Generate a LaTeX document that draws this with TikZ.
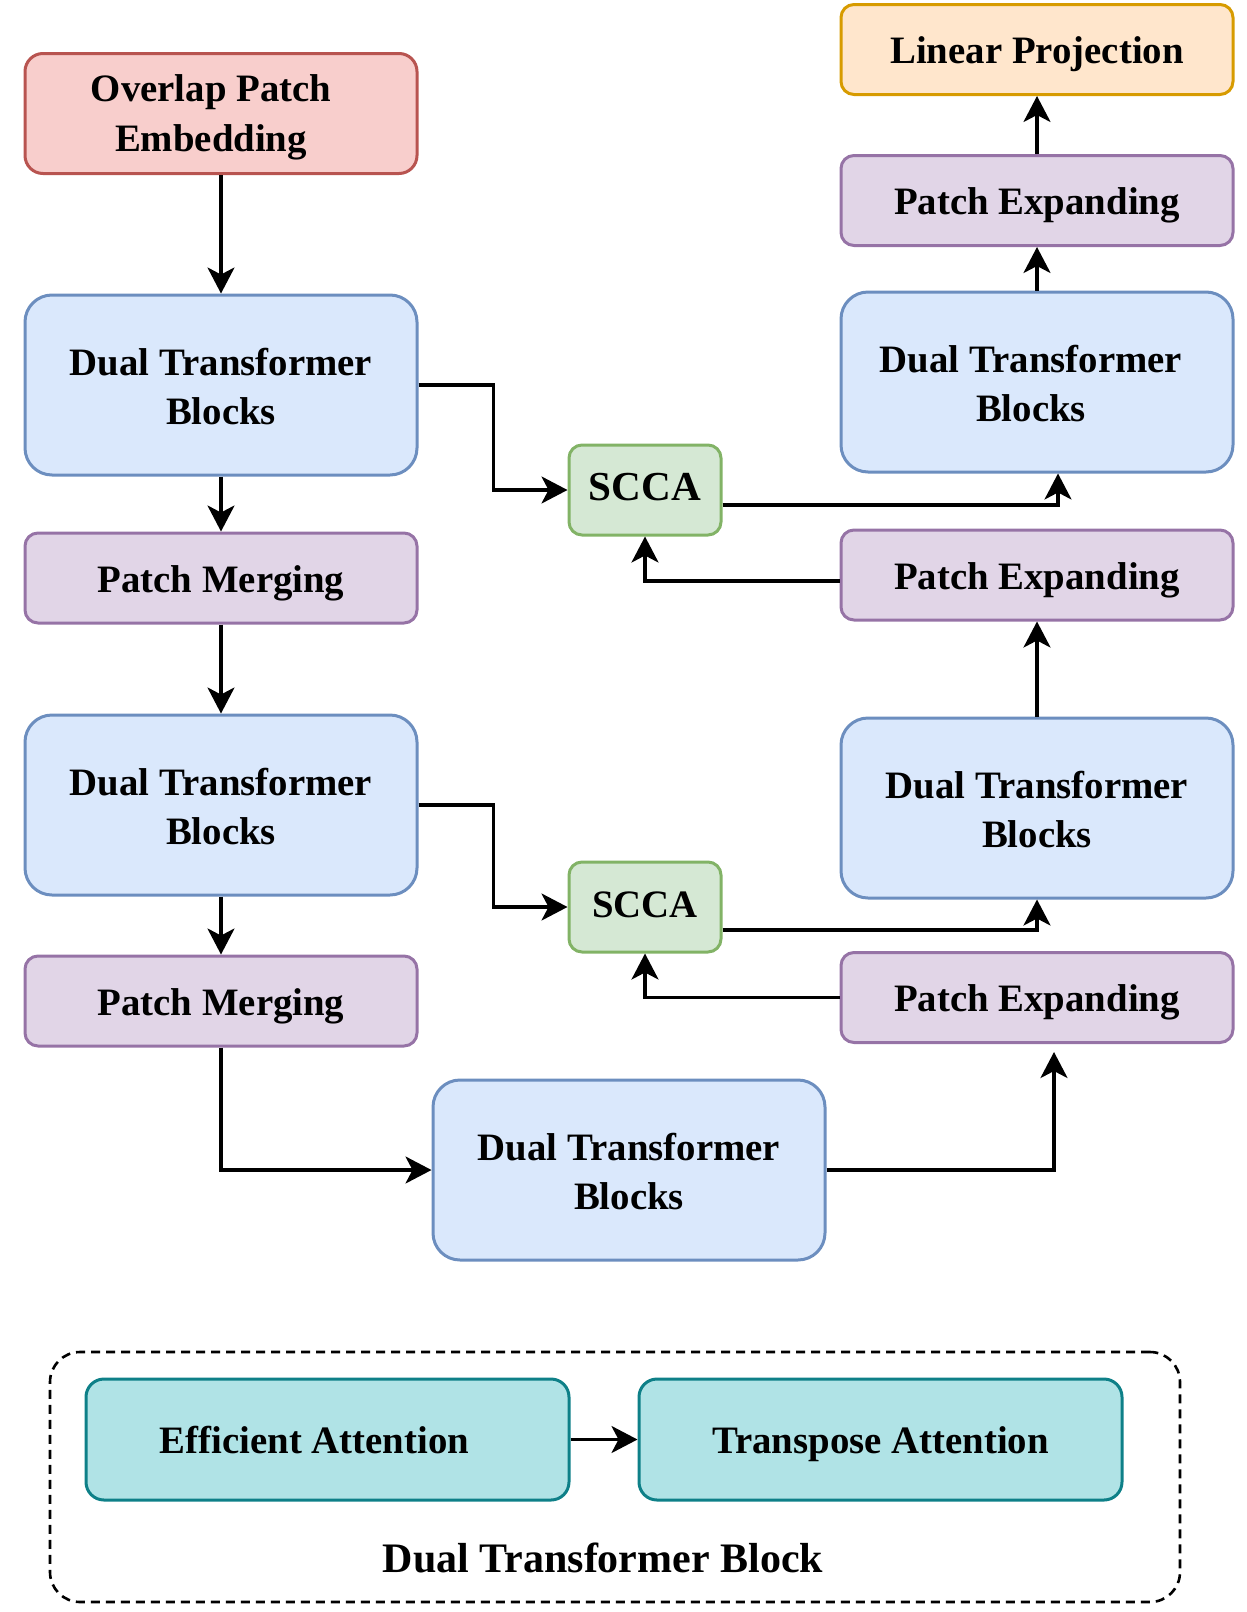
\documentclass[tikz,border=0pt]{standalone}
\usepackage{fontspec}
\setmainfont{Liberation Serif}
\usetikzlibrary{arrows.meta}

\definecolor{redfill}{HTML}{F8CECC}\definecolor{redline}{HTML}{B85450}
\definecolor{bluefill}{HTML}{DAE8FC}\definecolor{blueline}{HTML}{6C8EBF}
\definecolor{purplefill}{HTML}{E1D5E7}\definecolor{purpleline}{HTML}{9673A6}
\definecolor{greenfill}{HTML}{D5E8D4}\definecolor{greenline}{HTML}{82B366}
\definecolor{orangefill}{HTML}{FFE6CC}\definecolor{orangeline}{HTML}{D79B00}
\definecolor{tealfill}{HTML}{B0E3E6}\definecolor{tealline}{HTML}{0E8088}

\begin{document}
\begin{tikzpicture}[x=0.5pt,y=-0.5pt,line width=1.6pt,
    >={Stealth[length=13pt,width=13.5pt,inset=3.5pt]}]
    \tikzstyle{block}=[rectangle,draw,line width=1.5pt,inner sep=0pt,align=center,
      minimum width=196pt,font=\fontsize{19.4}{24.75}\selectfont\bfseries]
    \tikzstyle{dtb}=[block,fill=bluefill,draw=blueline,minimum height=90pt,rounded corners=13.5pt,
      text height=40pt]
    \tikzstyle{small}=[block,minimum height=45pt,rounded corners=6.5pt,text height=17pt,text depth=3pt]
    \tikzstyle{ope}=[block,fill=redfill,draw=redline,minimum height=60pt,rounded corners=9pt,
      text height=42pt]
    \tikzstyle{merge}=[small,fill=purplefill,draw=purpleline]
    \tikzstyle{expand}=[small,fill=purplefill,draw=purpleline]
    \tikzstyle{lin}=[small,fill=orangefill,draw=orangeline]
    \tikzstyle{scca}=[small,fill=greenfill,draw=greenline,minimum width=76pt,text height=13pt,
      text depth=3pt]
    \tikzstyle{attn}=[block,fill=tealfill,draw=tealline,minimum width=241.5pt,
      minimum height=60.5pt,rounded corners=9pt,text height=17pt,text depth=3pt]

    \useasboundingbox (0,0) rectangle (1247,1612);

    % encoder side
    \node[ope] (O-1) at (221,113.5) {Overlap Patch\rule{10pt}{0pt}\\Embedding\rule{10pt}{0pt}};
    \foreach \n/\y in {1/385,2/805}
    \node[dtb] (E-\n) at (221,\y) {Dual Transformer\\Blocks};
    \foreach \n/\y in {1/578,2/1001}
    \node[merge] (M-\n) at (221,\y) {Patch Merging};
    \node[dtb] (E-3) at (629,1170) {Dual Transformer\\Blocks};

    % skip connections
    \node[scca,font=\fontsize{20.6}{24.75}\selectfont\bfseries] (S-1) at (645,490) {SCCA};
    \node[scca] (S-2) at (645,907) {SCCA};

    % decoder side
    \node[lin] (L-1) at (1037,49.5) {Linear Projection};
    \foreach \n/\y in {1/200.5,2/575,3/997.5}
    \node[expand] (X-\n) at (1037,\y) {Patch Expanding};
    \node[dtb] (D-1) at (1037,382) {Dual Transformer\rule{6pt}{0pt}\\Blocks\rule{6pt}{0pt}};
    \node[dtb] (D-2) at (1037,808) {Dual Transformer\\Blocks};
    \coordinate (X-3in) at (1054,1052);

    \foreach \src/\dst in {O-1/E-1,E-1/M-1,M-1/E-2,E-2/M-2,D-2/X-2,D-1/X-1,X-1/L-1}
    \path[->] (\src) edge (\dst);

    \draw[->] (E-1.east) -- ++(75,0) |- (S-1.west);
    \draw[->] (E-2.east) -- ++(75,0) |- (S-2.west);
    \draw[->] ([yshift=-7.5pt]S-1.east) -| ([xshift=10.5pt]D-1.south);
    \draw[->] ([yshift=-11.5pt]S-2.east) -| (D-2.south);
    \draw[->] ([yshift=-3pt]X-2.west) -| (S-1.south);
    \draw[->] (X-3.west) -| (S-2.south);
    \draw[->] (M-2.south) |- (E-3.west);
    \draw[->] (E-3.east) -| (X-3in);

    % legend
    \node[draw,dashed,dash pattern=on 4.5pt off 3pt,rounded corners=15pt,line width=1.3pt,
      minimum width=565pt,minimum height=125pt] (F-1) at (615,1477) {};
    \node[attn] (A-1) at (327.5,1439.5) {Efficient Attention\rule{13pt}{0pt}};
    \node[attn] (A-2) at (880.5,1439.5) {Transpose Attention};
    \path[->] (A-1) edge (A-2);
    \node[font=\fontsize{21}{24.75}\selectfont\bfseries] (T-1) at (603,1558)
      {Dual Transformer Block};
\end{tikzpicture}
\end{document}
